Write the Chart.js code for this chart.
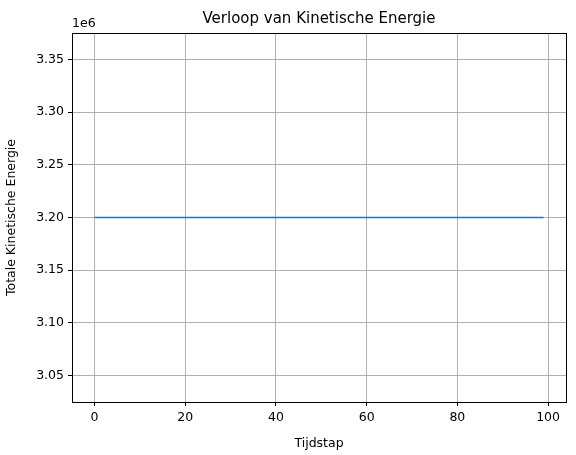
<!DOCTYPE html>
<html>
<head>
<meta charset="utf-8">
<script src="https://cdn.jsdelivr.net/npm/chart.js@4/dist/chart.umd.min.js"></script>
<style>
  html, body { margin: 0; padding: 0; background: #fff; }
  #wrap { width: 576px; height: 455px; }
</style>
</head>
<body>
<div id="wrap"><canvas id="chart" width="576" height="455"></canvas></div>
<script>
// ==========================
// DATA
// ==========================
const tijdstappen = [];
for (let i = 0; i < 100; i++) tijdstappen.push(i);

const energie = [
  3.2e6, 3.2e6, 3.2e6, 3.2e6, 3.2e6, 3.2e6, 3.2e6, 3.2e6, 3.2e6, 3.2e6,
  3.2e6, 3.2e6, 3.2e6, 3.2e6, 3.2e6, 3.2e6, 3.2e6, 3.2e6, 3.2e6, 3.2e6,
  3.2e6, 3.2e6, 3.2e6, 3.2e6, 3.2e6, 3.2e6, 3.2e6, 3.2e6, 3.2e6, 3.2e6,
  3.2e6, 3.2e6, 3.2e6, 3.2e6, 3.2e6, 3.2e6, 3.2e6, 3.2e6, 3.2e6, 3.2e6,
  3.2e6, 3.2e6, 3.2e6, 3.2e6, 3.2e6, 3.2e6, 3.2e6, 3.2e6, 3.2e6, 3.2e6,
  3.2e6, 3.2e6, 3.2e6, 3.2e6, 3.2e6, 3.2e6, 3.2e6, 3.2e6, 3.2e6, 3.2e6,
  3.2e6, 3.2e6, 3.2e6, 3.2e6, 3.2e6, 3.2e6, 3.2e6, 3.2e6, 3.2e6, 3.2e6,
  3.2e6, 3.2e6, 3.2e6, 3.2e6, 3.2e6, 3.2e6, 3.2e6, 3.2e6, 3.2e6, 3.2e6,
  3.2e6, 3.2e6, 3.2e6, 3.2e6, 3.2e6, 3.2e6, 3.2e6, 3.2e6, 3.2e6, 3.2e6,
  3.2e6, 3.2e6, 3.2e6, 3.2e6, 3.2e6, 3.2e6, 3.2e6, 3.2e6, 3.2e6, 3.2e6
];

const xTicks = [0, 20, 40, 60, 80, 100];
const yTicks = [3.05e6, 3.10e6, 3.15e6, 3.20e6, 3.25e6, 3.30e6, 3.35e6];

const FONT = "'DejaVu Sans', sans-serif";

// ==========================
// PLUGIN: titel, kader, 1e6
// ==========================
const extras = {
  id: "extras",
  afterDraw(chart) {
    const { ctx, chartArea: a } = chart;
    ctx.save();
    ctx.strokeStyle = "#000";
    ctx.lineWidth = 1;
    ctx.strokeRect(a.left + 0.5, a.top + 0.5, a.right - a.left, a.bottom - a.top);
    ctx.fillStyle = "#000";
    ctx.font = "15px " + FONT;
    ctx.textAlign = "center";
    ctx.textBaseline = "bottom";
    ctx.fillText("Verloop van Kinetische Energie", (a.left + a.right) / 2, a.top - 6);
    ctx.font = "12.5px " + FONT;
    ctx.textAlign = "left";
    ctx.fillText("1e6", a.left, a.top - 3);
    ctx.restore();
  }
};

new Chart(document.getElementById("chart"), {
  type: "line",
  data: {
    labels: tijdstappen,
    datasets: [{
      data: energie,
      borderColor: "#1f77b4",
      borderWidth: 1.5,
      pointRadius: 0,
      fill: false,
      tension: 0
    }]
  },
  options: {
    responsive: false,
    animation: false,
    layout: { padding: { top: 33, right: 10, left: 0, bottom: 0 } },
    plugins: { legend: { display: false }, title: { display: false }, tooltip: { enabled: false } },
    scales: {
      x: {
        type: "linear",
        min: -4.95,
        max: 103.95,
        afterBuildTicks: s => { s.ticks = xTicks.map(v => ({ value: v })); },
        afterFit: s => { s.height = 53; },
        ticks: { color: "#000", font: { family: FONT, size: 12.5 }, maxRotation: 0, padding: 4 },
        grid: { color: "#b0b0b0", tickColor: "#000", tickLength: 4 },
        border: { display: false },
        title: { display: true, text: "Tijdstap", color: "#000", font: { family: FONT, size: 12.5 }, padding: { top: 2 } }
      },
      y: {
        min: 3.025e6,
        max: 3.375e6,
        afterBuildTicks: s => { s.ticks = yTicks.map(v => ({ value: v })); },
        afterFit: s => { s.width = 72; },
        ticks: {
          color: "#000", font: { family: FONT, size: 12.5 }, padding: 4,
          callback: v => (v / 1e6).toFixed(2)
        },
        grid: { color: "#b0b0b0", tickColor: "#000", tickLength: 4 },
        border: { display: false },
        title: { display: true, text: "Totale Kinetische Energie", color: "#000", font: { family: FONT, size: 12.5 }, padding: { bottom: 2 } }
      }
    }
  },
  plugins: [extras]
});
</script>
</body>
</html>
